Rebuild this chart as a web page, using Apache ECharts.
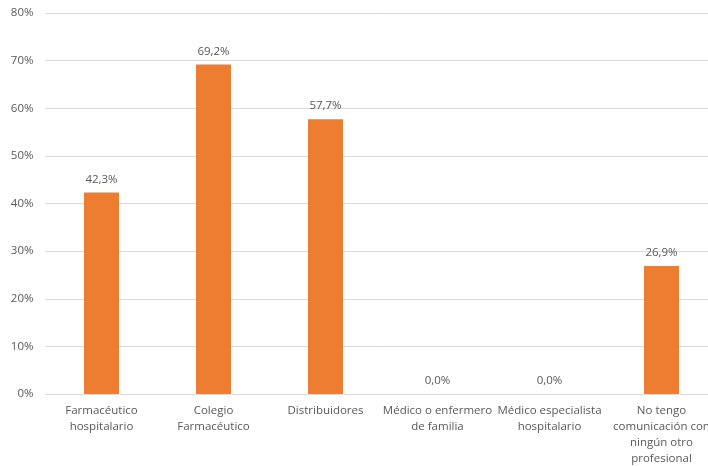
<!DOCTYPE html>
<html><head><meta charset="utf-8">
<script src="https://cdn.jsdelivr.net/npm/echarts@6/dist/echarts.min.js"></script>
<style>html,body{margin:0;padding:0;background:#fff}#c{width:708px;height:466px}</style>
</head><body><div id="c"></div>
<script>
const categories = ["Farmacéutico\nhospitalario","Colegio\nFarmacéutico","Distribuidores","Médico o enfermero\nde familia","Médico especialista\nhospitalario","No tengo\ncomunicación con\nningún otro\nprofesional"];
const values = [42.3, 69.2, 57.7, 0.0, 0.0, 26.9];
const yTicks = [0,10,20,30,40,50,60,70,80];
const font = "'Open Sans', 'Noto Sans', sans-serif";
const chart = echarts.init(document.getElementById('c'));
chart.setOption({
  animation:false,
  grid:{left:45.5, top:13, width:672, height:381, outerBoundsMode:'none', containLabel:false},
  xAxis:{type:'category', data:categories,
    axisLine:{lineStyle:{color:'#d9d9d9'}}, axisTick:{show:false},
    axisLabel:{interval:0, color:'#595959', fontFamily:font, fontSize:11.5, lineHeight:16, margin:9}},
  yAxis:{type:'value', min:0, max:80, interval:10,
    axisLabel:{formatter:v=>v+'%', color:'#595959', fontFamily:font, fontSize:11.5, margin:12},
    splitLine:{lineStyle:{color:'#d9d9d9'}}, axisLine:{show:false}, axisTick:{show:false}},
  series:[{type:'bar', data:values, barWidth:35, itemStyle:{color:'#ED7D31'},
    label:{show:true, position:'top', distance:7, color:'#595959', fontFamily:font, fontSize:11.5,
      formatter:p=>p.value.toFixed(1).replace('.',',')+'%'}}]
});
</script></body></html>
